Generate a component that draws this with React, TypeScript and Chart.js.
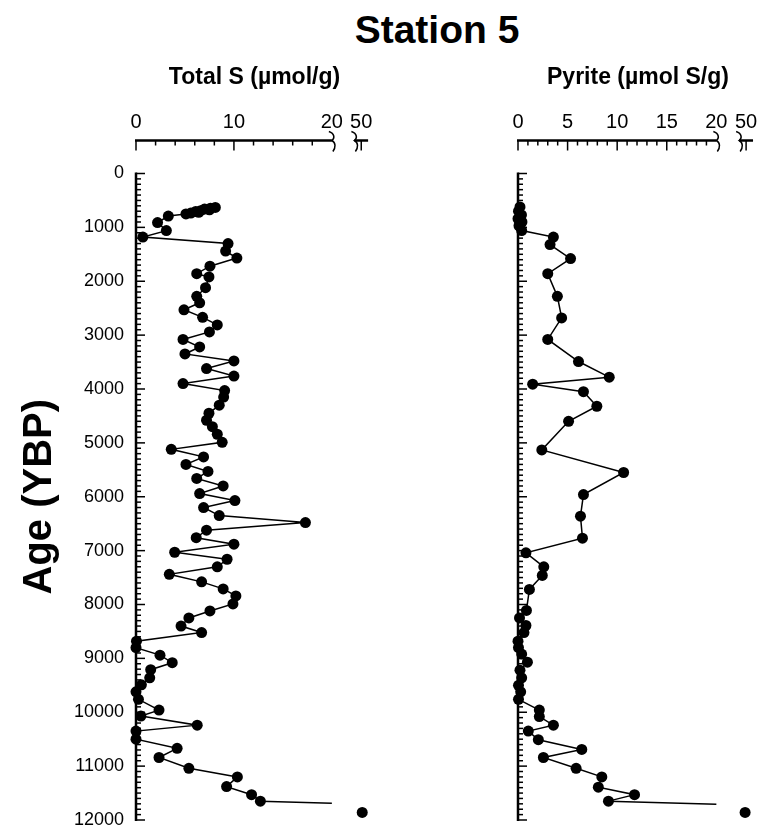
import React, { useEffect, useRef } from 'react';
import { Chart, registerables } from 'chart.js';

Chart.register(...registerables);

// ---------- data ----------
const totalSValues = [
  8.1, 7.6, 7.0, 7.5, 6.6, 6.1, 6.4, 5.6, 5.1, 3.3, 2.2, 3.1, 0.7, 9.4, 9.15, 10.3, 7.55, 6.2, 7.45, 7.1,
  6.2, 6.5, 4.9, 6.8, 8.3, 7.5, 4.8, 6.5, 5.0, 10.0, 7.2, 10.0, 4.8, 9.05, 8.95, 8.5, 7.45, 7.2, 7.8, 8.3,
  8.8, 3.6, 6.9, 5.1, 7.35, 6.2, 8.9, 6.5, 10.1, 6.9, 8.5, 17.3, 7.2, 6.15, 10.0, 3.95, 9.3, 8.3, 3.4, 6.7,
  8.9, 10.2, 9.9, 7.55, 5.4, 4.6, 6.7, 0.05, 0.0, 2.45, 3.7, 1.5, 1.4, 0.55, 0.0, 0.25, 2.35, 0.5, 6.25, 0.0,
  0.0, 4.2, 2.35, 5.4, 10.35, 9.25, 11.8, 12.7, 51,
];
const totalSAges = [
  630, 645, 660, 675, 690, 705, 720, 735, 750, 790, 910, 1060, 1180, 1300, 1440, 1570, 1720, 1860, 1920, 2120,
  2280, 2400, 2530, 2670, 2810, 2940, 3080, 3220, 3350, 3480, 3620, 3760, 3900, 4030, 4150, 4300, 4450, 4580, 4700, 4840,
  4990, 5120, 5260, 5400, 5530, 5660, 5800, 5940, 6070, 6200, 6350, 6480, 6620, 6760, 6880, 7030, 7160, 7300, 7440, 7580,
  7710, 7840, 7990, 8120, 8250, 8400, 8520, 8680, 8800, 8940, 9080, 9210, 9360, 9490, 9620, 9760, 9960, 10070, 10240, 10350,
  10500, 10670, 10840, 11040, 11200, 11380, 11530, 11650, 11860,
];

const pyriteValues = [
  0.2, 0.05, 0.35, 0.0, 0.4, 0.1, 0.37, 3.57, 3.23, 5.3, 3.0, 3.97, 4.4, 3.0, 6.1, 9.2, 1.48, 6.6, 7.95, 5.1,
  2.4, 10.65, 6.6, 6.3, 6.5, 0.8, 2.6, 2.45, 1.15, 0.85, 0.15, 0.8, 0.6, 0.0, 0.05, 0.37, 0.95, 0.2, 0.37, 0.05,
  0.27, 0.05, 2.15, 2.15, 3.57, 1.04, 2.05, 6.43, 2.56, 5.86, 8.45, 8.1, 11.75, 9.12, 49,
];
const pyriteAges = [
  620, 700, 770, 840, 900, 970, 1060, 1180, 1320, 1580, 1860, 2280, 2680, 3080, 3490, 3780, 3910, 4050, 4320, 4600,
  5130, 5550, 5960, 6360, 6770, 7040, 7300, 7460, 7720, 8110, 8250, 8390, 8520, 8680, 8800, 8920, 9070, 9220, 9360, 9500,
  9620, 9760, 9960, 10080, 10240, 10350, 10510, 10690, 10840, 11040, 11200, 11390, 11530, 11650, 11860,
];

const ageTicks = [0, 1000, 2000, 3000, 4000, 5000, 6000, 7000, 8000, 9000, 10000, 11000, 12000];
const totalSTicks = [0, 10, 20, 50];
const pyriteTicks = [0, 5, 10, 15, 20, 50];

// ---------- broken axis helpers ----------
const BREAK_AT = 20;      // axis is broken after 20
const HIGH_TICK = 50;     // the single value shown after the break
const HIGH_POS = 23;      // axis position used for HIGH_TICK
const SEG2_START = 22.3;
const SEG2_END = 23.7;
const X_MAX = 24.2;
const X_AXIS_GAP = 33;    // px between top axis line and plot top

const toAxis = (v: number) => (v > BREAK_AT ? HIGH_POS + (v - HIGH_TICK) * 0.1 : v);

const FONT = 'Arial, "Liberation Sans", Helvetica, sans-serif';

function buildDatasets(values: number[], ages: number[]) {
  const main: { x: number; y: number }[] = [];
  const high: { x: number; y: number }[] = [];
  values.forEach((v, i) => {
    if (v > BREAK_AT) high.push({ x: toAxis(v), y: ages[i] });
    else main.push({ x: v, y: ages[i] });
  });
  const connector: { x: number; y: number }[] = [];
  const bi = values.findIndex((v) => v > BREAK_AT);
  if (bi > 0) {
    const v0 = values[bi - 1], a0 = ages[bi - 1], v1 = values[bi], a1 = ages[bi];
    const aBreak = a0 + ((BREAK_AT - v0) / (v1 - v0)) * (a1 - a0);
    connector.push({ x: v0, y: a0 }, { x: BREAK_AT, y: aBreak });
  }
  const common = { borderColor: '#000', backgroundColor: '#000', clip: false as any };
  return [
    { ...common, data: main, showLine: true, borderWidth: 1.5, pointRadius: 5.5, pointHoverRadius: 5.5, pointBorderWidth: 0, pointBackgroundColor: '#000' },
    { ...common, data: connector, showLine: true, borderWidth: 1.5, pointRadius: 0 },
    { ...common, data: high, showLine: false, pointRadius: 5.5, pointBorderWidth: 0, pointBackgroundColor: '#000' },
  ];
}

function squiggle(ctx: CanvasRenderingContext2D, x: number, y: number) {
  ctx.beginPath();
  ctx.moveTo(x - 3, y - 9);
  ctx.bezierCurveTo(x + 3, y - 7, x + 3, y - 2, x, y);
  ctx.bezierCurveTo(x + 4, y + 2, x + 4, y + 7, x + 1, y + 11);
  ctx.stroke();
}

function axesPlugin(xTickValues: number[], xMinor: number, xMajor: number) {
  return {
    id: 'brokenAxes',
    beforeDatasetsDraw(chart: any) {
      const { ctx, chartArea, scales } = chart;
      const x = scales.x, y = scales.y;
      const line = (x1: number, y1: number, x2: number, y2: number) => {
        ctx.beginPath();
        ctx.moveTo(x1, y1);
        ctx.lineTo(x2, y2);
        ctx.stroke();
      };
      ctx.save();
      ctx.strokeStyle = '#000';
      // y axis
      const ax = chartArea.left;
      const yMin = ageTicks[0], yMax = ageTicks[ageTicks.length - 1];
      ctx.lineWidth = 2.5;
      line(ax, y.getPixelForValue(yMin) - 1, ax, y.getPixelForValue(yMax) + 1);
      ctx.lineWidth = 1.5;
      for (let v = yMin; v <= yMax; v += 100) {
        const p = y.getPixelForValue(v);
        line(ax, p, ax + (v % 1000 === 0 ? 9 : 5), p);
      }
      // x axis (top, broken)
      const xy = chartArea.top - X_AXIS_GAP;
      const xs = x.getPixelForValue(0), xe = x.getPixelForValue(BREAK_AT);
      ctx.lineWidth = 2.5;
      line(xs - 1, xy, xe, xy);
      const s2 = x.getPixelForValue(SEG2_START), e2 = x.getPixelForValue(SEG2_END);
      line(s2, xy, e2, xy);
      ctx.lineWidth = 1.5;
      squiggle(ctx, xe, xy);
      squiggle(ctx, s2, xy);
      for (let v = 0; v < BREAK_AT - 1e-6; v += xMinor) {
        const p = x.getPixelForValue(v);
        const major = Math.abs(v / xMajor - Math.round(v / xMajor)) < 1e-6;
        line(p, xy, p, xy + (major ? 10 : 5));
      }
      xTickValues.filter((t) => t > BREAK_AT).forEach((t) => {
        const p = x.getPixelForValue(toAxis(t));
        line(p, xy, p, xy + 10);
      });
      ctx.restore();
    },
  };
}

function makeConfig(opts: {
  values: number[]; ages: number[]; xTicks: number[]; xMinor: number; xMajor: number;
  xTitle: string; showY: boolean; yWidth: number; padRight: number;
}) {
  return {
    type: 'scatter' as const,
    data: { datasets: buildDatasets(opts.values, opts.ages) as any },
    plugins: [axesPlugin(opts.xTicks, opts.xMinor, opts.xMajor)],
    options: {
      responsive: false,
      animation: false as const,
      devicePixelRatio: 1,
      layout: { padding: { top: 0, left: 0, right: opts.padRight, bottom: 12 } },
      plugins: { legend: { display: false }, tooltip: { enabled: false }, title: { display: false } },
      scales: {
        x: {
          type: 'linear' as const,
          position: 'top' as const,
          min: 0,
          max: X_MAX,
          grid: { display: false, drawTicks: true, tickLength: 39 },
          border: { display: false },
          afterBuildTicks: (scale: any) => {
            scale.ticks = opts.xTicks.map((v) => ({ value: toAxis(v) }));
          },
          afterFit: (scale: any) => {
            scale.height = 173.5;
          },
          ticks: {
            color: '#000',
            padding: 0,
            maxRotation: 0,
            autoSkip: false,
            font: { family: FONT, size: 20 },
            callback: (val: number) => {
              const idx = opts.xTicks.findIndex((t) => Math.abs(toAxis(t) - val) < 1e-6);
              return idx >= 0 ? String(opts.xTicks[idx]) : '';
            },
          },
          title: {
            display: true,
            text: opts.xTitle,
            color: '#000',
            font: { family: FONT, size: 23, weight: 'bold' as const },
            padding: { top: 64, bottom: 0 },
          },
        },
        y: {
          type: 'linear' as const,
          position: 'left' as const,
          reverse: true,
          min: ageTicks[0],
          max: ageTicks[ageTicks.length - 1],
          grid: { display: false, drawTicks: true, tickLength: 12 },
          border: { display: false },
          afterBuildTicks: (scale: any) => {
            scale.ticks = ageTicks.map((v) => ({ value: v }));
          },
          afterFit: (scale: any) => {
            scale.width = opts.yWidth;
          },
          ticks: {
            display: opts.showY,
            color: '#000',
            padding: 0,
            autoSkip: false,
            font: { family: FONT, size: 18 },
            callback: (val: number) => String(val),
          },
          title: {
            display: opts.showY,
            text: 'Age (YBP)',
            color: '#000',
            font: { family: FONT, size: 40, weight: 'bold' as const },
            padding: { top: 16, bottom: 0 },
          },
        },
      },
    },
  };
}

export default function App() {
  const leftRef = useRef<HTMLCanvasElement>(null);
  const rightRef = useRef<HTMLCanvasElement>(null);

  useEffect(() => {
    const left = new Chart(
      leftRef.current as HTMLCanvasElement,
      makeConfig({
        values: totalSValues, ages: totalSAges, xTicks: totalSTicks, xMinor: 2, xMajor: 10,
        xTitle: 'Total S (µmol/g)', showY: true, yWidth: 136, padRight: 11,
      }) as any
    );
    const right = new Chart(
      rightRef.current as HTMLCanvasElement,
      makeConfig({
        values: pyriteValues, ages: pyriteAges, xTicks: pyriteTicks, xMinor: 1, xMajor: 5,
        xTitle: 'Pyrite (µmol S/g)', showY: false, yWidth: 134, padRight: 10,
      }) as any
    );
    return () => {
      left.destroy();
      right.destroy();
    };
  }, []);

  return (
    <div style={{ position: 'fixed', left: 0, top: 0, width: 768, height: 832, background: '#fff', overflow: 'hidden' }}>
      <div
        style={{
          position: 'absolute', left: 287, top: 8, width: 300, textAlign: 'center',
          fontFamily: FONT, fontWeight: 'bold', fontSize: 39, lineHeight: '44px', color: '#000',
        }}
      >
        Station 5
      </div>
      <canvas ref={leftRef} width={384} height={832} style={{ position: 'absolute', left: 0, top: 0, width: 384, height: 832 }} />
      <canvas ref={rightRef} width={384} height={832} style={{ position: 'absolute', left: 384, top: 0, width: 384, height: 832 }} />
    </div>
  );
}
